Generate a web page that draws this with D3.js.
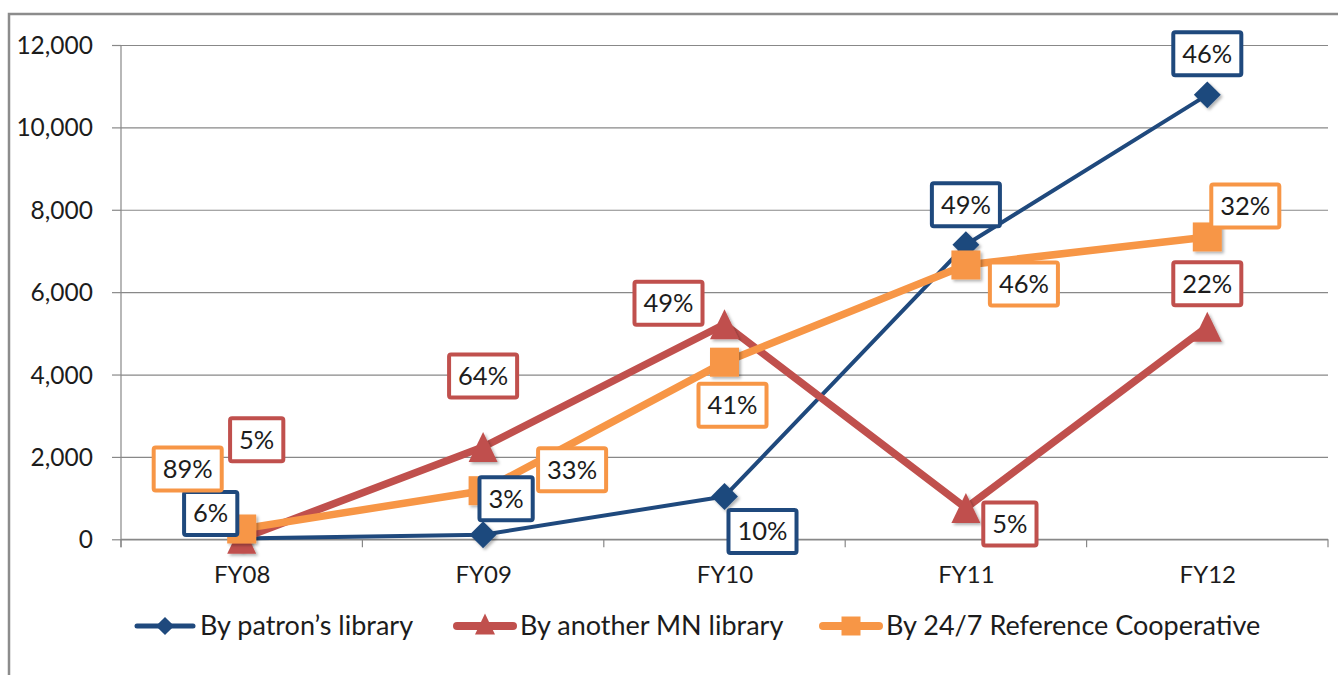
<!DOCTYPE html>
<html>
<head>
<meta charset="utf-8">
<script src="https://cdn.jsdelivr.net/npm/d3@7"></script>
<style>
  html, body { margin: 0; padding: 0; background: #fff; }
  svg { display: block; }
  text { font-family: Lato, "Open Sans", sans-serif; fill: #1c1c1c; }
</style>
</head>
<body>
<svg id="chart" width="1338" height="675"></svg>
<script>
// ---------------- data ----------------
const categories = ["FY08", "FY09", "FY10", "FY11", "FY12"];
const seriesNames = ["By patron\u2019s library", "By another MN library", "By 24/7 Reference Cooperative"];
const patronValues  = [20, 110, 1040, 7150, 10790];
const anotherValues = [15, 2240, 5220, 760, 5160];
const coopValues    = [250, 1180, 4300, 6660, 7340];
const patronPct  = ["6%", "3%", "10%", "49%", "46%"];
const anotherPct = ["5%", "64%", "49%", "5%", "22%"];
const coopPct    = ["89%", "33%", "41%", "46%", "32%"];
const yTicks = [0, 2000, 4000, 6000, 8000, 10000, 12000];

// ---------------- layout / style ----------------
const colors = ["#1F497D", "#C0504D", "#F79646"];
const lineWidths = [4, 7.5, 7.5];
const shapes = ["diamond", "triangle", "square"];
// data-label box offsets (dx, dy) from the point
const labelOffsets = [
  [[-31, -25], [23, -36], [38, 35], [0, -40], [0, -41]],
  [[15, -99], [0, -71], [-56, -21], [44, 16], [0, -43]],
  [[-54, -60], [89, -21], [8, 43], [58, 19], [38, -31]]
];
const legendLineStart = [137, 457, 823];

const svg = d3.select("#chart");
const W = 1338, H = 675;
const plotLeft = 121, plotRight = 1328, plotTop = 45, plotBottom = 539.3;

svg.append("rect").attr("width", W).attr("height", H).attr("fill", "#fff");
svg.append("rect").attr("x", 9).attr("y", 14).attr("width", 1345).attr("height", 700)
  .attr("fill", "none").attr("stroke", "#8c8c8c").attr("stroke-width", 2.5);

const defs = svg.append("defs");
const f = defs.append("filter").attr("id", "sh").attr("x", "-50%").attr("y", "-50%").attr("width", "200%").attr("height", "200%");
f.append("feDropShadow").attr("dx", 2).attr("dy", 2).attr("stdDeviation", 1.5)
  .attr("flood-color", "#000").attr("flood-opacity", 0.3);

const x = d3.scalePoint().domain(categories).range([plotLeft, plotRight]).padding(0.5);
const xb = d3.scaleBand().domain(categories).range([plotLeft, plotRight]);
const y = d3.scaleLinear().domain([0, 12000]).range([plotBottom, plotTop]);

const axisColor = "#888";

// gridlines
svg.append("g").attr("transform", `translate(${plotLeft},0)`)
  .call(d3.axisLeft(y).tickValues(yTicks).tickSize(-(plotRight - plotLeft)).tickFormat(""))
  .call(g => g.select(".domain").remove())
  .call(g => g.selectAll("line").attr("stroke", axisColor).attr("stroke-width", 1.2));

// y axis with tick marks and labels
const yAxis = svg.append("g").attr("transform", `translate(${plotLeft},0)`)
  .call(d3.axisLeft(y).tickValues(yTicks).tickSize(9).tickPadding(19).tickFormat(d3.format(",")));
yAxis.select(".domain").remove();
yAxis.selectAll("line").attr("stroke", axisColor).attr("stroke-width", 1.2);
yAxis.selectAll("text").attr("font-size", 24.5).attr("font-family", "Lato").attr("fill", "#1c1c1c").attr("dy", "0.35em");
svg.append("line").attr("x1", plotLeft).attr("x2", plotLeft).attr("y1", plotTop).attr("y2", plotBottom + 8)
  .attr("stroke", axisColor).attr("stroke-width", 1.2);

// x axis
svg.append("line").attr("x1", plotLeft).attr("x2", plotRight).attr("y1", plotBottom).attr("y2", plotBottom)
  .attr("stroke", axisColor).attr("stroke-width", 1.2);
const bounds = categories.map(c => xb(c)).concat([xb.range()[1]]);
svg.append("g").selectAll("line").data(bounds).join("line")
  .attr("x1", d => d).attr("x2", d => d).attr("y1", plotBottom).attr("y2", plotBottom + 8)
  .attr("stroke", axisColor).attr("stroke-width", 1.2);
const xAxis = svg.append("g").attr("transform", `translate(0,${plotBottom})`)
  .call(d3.axisBottom(x).tickSize(0).tickPadding(27));
xAxis.select(".domain").remove();
xAxis.selectAll("text").attr("font-size", 24).attr("font-family", "Lato").attr("fill", "#1c1c1c");

// marker path generator
function markerPath(shape, s) {
  if (shape === "diamond") { const r = s * 0.48; return `M0,${-r}L${r},0L0,${r}L${-r},0Z`; }
  if (shape === "triangle") { const w = s * 0.5, h = s * 0.52; return `M0,${-h}L${w},${h}L${-w},${h}Z`; }
  const r = s * 0.5; return `M${-r},${-r}H${r}V${r}H${-r}Z`;
}
const markerSizes = [28, 29, 29];

const allValues = [patronValues, anotherValues, coopValues];
const allPct = [patronPct, anotherPct, coopPct];
const line = d3.line().x((d, i) => x(categories[i])).y(d => y(d));

allValues.forEach((vals, si) => {
  const g = svg.append("g");
  g.append("path").datum(vals).attr("d", line).attr("fill", "none")
    .attr("stroke", colors[si]).attr("stroke-width", lineWidths[si]).attr("stroke-linejoin", "round");
  g.selectAll("path.m").data(vals).join("path").attr("class", "m")
    .attr("transform", (d, i) => `translate(${x(categories[i])},${y(d)})`)
    .attr("d", markerPath(shapes[si], markerSizes[si]))
    .attr("fill", colors[si]).attr("filter", "url(#sh)");
});

// data labels
allValues.forEach((vals, si) => {
  vals.forEach((v, i) => {
    const cx = x(categories[i]) + labelOffsets[si][i][0];
    const cy = y(v) + labelOffsets[si][i][1];
    const g = svg.append("g");
    const rect = g.append("rect");
    const t = g.append("text").attr("x", cx).attr("y", cy + 9).attr("text-anchor", "middle")
      .attr("font-size", 25.5).text(allPct[si][i]);
    const tw = t.node().getComputedTextLength();
    const w = tw + 18, h = 43;
    rect.attr("x", cx - w / 2).attr("y", cy - h / 2).attr("width", w).attr("height", h)
      .attr("rx", 2).attr("fill", "#fff").attr("stroke", colors[si]).attr("stroke-width", 4);
  });
});

// legend
const legendY = 626;
seriesNames.forEach((name, si) => {
  const x0 = legendLineStart[si];
  const g = svg.append("g");
  g.append("line").attr("x1", x0).attr("x2", x0 + 56).attr("y1", legendY).attr("y2", legendY)
    .attr("stroke", colors[si]).attr("stroke-width", si === 0 ? 5 : 8).attr("stroke-linecap", "round");
  g.append("path").attr("transform", `translate(${x0 + 28},${legendY + (si === 1 ? -2 : 0)})`)
    .attr("d", markerPath(shapes[si], si === 1 ? 20 : 19)).attr("fill", colors[si]);
  g.append("text").attr("x", x0 + 63).attr("y", legendY + 9).attr("font-size", 27).text(name);
});
</script>
</body>
</html>
